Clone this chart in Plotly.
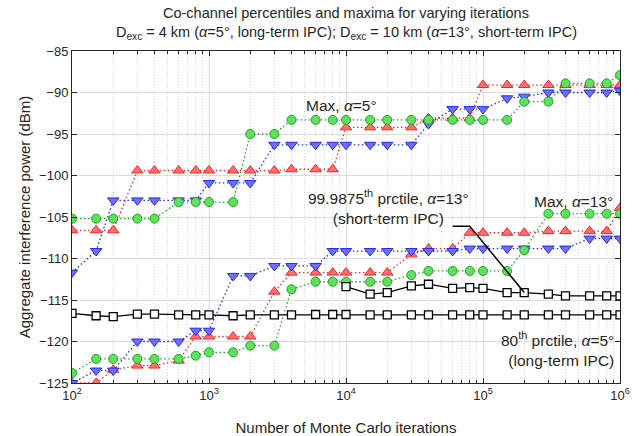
import plotly.graph_objects as go

# ---------------- data ----------------
iterations = [100, 150, 200, 300, 400, 600, 800,
              1e3, 1.5e3, 2e3, 3e3, 4e3, 6e3, 8e3,
              1e4, 1.5e4, 2e4, 3e4, 4e4, 6e4, 8e4,
              1e5, 1.5e5, 2e5, 3e5, 4e5, 6e5, 8e5, 1e6]

# Max, alpha=5 deg (three runs)
max_a5_green = [-105.2]*5 + [-103.2]*4 + [-95.0]*2 + [-93.3]*12 + [-91.1]*2 + [-88.9]*3 + [-87.9]
max_a5_red = [-106.6]*3 + [-99.4]*8 + [-99.25]*3 + [-94.2]*4 + [-93.1]*3 + [-89.1]*8
max_a5_blue = ([-111.7, -109.1] + [-103.0]*5 + [-100.9]*3 + [-96.3]*8 + [-93.8]
               + [-92.0]*3 + [-90.7, -90.5] + [-90.0]*4 + [-89.8])

# Max, alpha=13 deg (three runs)
max_a13_green = ([-123.8] + [-122.1]*5 + [-121.7] + [-121.3]*2 + [-120.5]*2 + [-113.7]
                 + [-112.8]*5 + [-112.0] + [-111.5]*5 + [-109.0] + [-104.6]*5)
max_a13_red = ([-125.0, -125.0, -123.4, -122.9, -122.9, -122.3] + [-119.4]*4 + [-114.0]
               + [-111.7]*6 + [-109.5, -108.8, -108.8] + [-106.9]*4 + [-106.7]*4 + [-103.9])
max_a13_blue = ([-125.0, -123.5, -123.5] + [-120.0]*3 + [-118.7]*2 + [-112.1]*2
                + [-110.9]*3 + [-109.1]*7 + [-108.8]*6 + [-107.6]*3)

# 80th percentile, alpha=5 deg (long-term IPC)
p80_a5 = ([-116.6, -116.9, -117.0, -116.7, -116.7, -116.8, -116.8, -116.8, -116.9,
           -116.8, -116.8, -116.8, -116.75, -116.75, -116.75] + [-116.8]*14)

# 99.9875th percentile, alpha=13 deg (short-term IPC), from 1e4 on
iterations_p999 = iterations[14:]
p999_a13 = [-113.4, -114.3, -114.1, -113.3, -113.1, -113.6, -113.5, -113.6,
            -114.1, -114.1, -114.3, -114.5, -114.5, -114.5, -114.5]

# annotation connector (label -> curve)
connector_x = [6e4, 8e4, 2e5]
connector_y = [-106.1, -106.1, -114.1]

x_tickvals = [1e2, 1e3, 1e4, 1e5, 1e6]
x_ticktext = ["10<sup>2</sup>", "10<sup>3</sup>", "10<sup>4</sup>", "10<sup>5</sup>", "10<sup>6</sup>"]
y_tickvals = [-125, -120, -115, -110, -105, -100, -95, -90, -85]

title_line1 = "Co-channel percentiles and maxima for varying iterations"
title_line2 = ("D<sub>exc</sub> = 4 km (<i>α</i>=5°, long-term IPC); "
               "D<sub>exc</sub> = 10 km (<i>α</i>=13°, short-term IPC)")

# ---------------- styles ----------------
FONT = "Liberation Sans, Arial, sans-serif"
TXT = "#262626"
RED = dict(line="#ee2a2a", fill="#ff6e6e", symbol="triangle-up")
BLUE = dict(line="#2a2aee", fill="#6e6eff", symbol="triangle-down")
GREEN = dict(line="#1fa51f", fill="#60e060", symbol="circle")
DOT = "1.5px,2.5px"

fig = go.Figure()


def add_series(y, st, size=9):
    fig.add_trace(go.Scatter(
        x=iterations, y=y, mode="lines+markers",
        line=dict(color=st["line"], width=1.3, dash=DOT),
        marker=dict(symbol=st["symbol"], size=size, color=st["fill"],
                    line=dict(color=st["line"], width=1)),
        showlegend=False, hoverinfo="x+y"))


for ys in (max_a5_red, max_a13_red):
    add_series(ys, RED, 10)
for ys in (max_a5_blue, max_a13_blue):
    add_series(ys, BLUE, 10)
for ys in (max_a5_green, max_a13_green):
    add_series(ys, GREEN, 9)

for xs, ys in ((iterations, p80_a5), (iterations_p999, p999_a13)):
    fig.add_trace(go.Scatter(
        x=xs, y=ys, mode="lines+markers",
        line=dict(color="black", width=1.3),
        marker=dict(symbol="square", size=8, color="white", line=dict(color="black", width=1.3)),
        showlegend=False))
fig.add_trace(go.Scatter(
    x=connector_x, y=connector_y, mode="lines",
    line=dict(color="black", width=1.5), showlegend=False, hoverinfo="skip"))

ann_font = dict(family=FONT, size=15.5, color=TXT)
annotations = [
    dict(text="Max, <i>α</i>=5°", x=0.491, y=0.837, xanchor="center", yanchor="middle"),
    dict(text="99.9875<sup>th</sup> prctile, <i>α</i>=13°<br>(short-term IPC)",
         x=0.578, y=0.530, xanchor="center", yanchor="middle", align="center"),
    dict(text="Max, <i>α</i>=13°", x=0.915, y=0.546, xanchor="center", yanchor="middle"),
    dict(text="80<sup>th</sup> prctile, <i>α</i>=5°<br>(long-term IPC)",
         x=0.992, y=0.102, xanchor="right", yanchor="middle", align="right"),
]
for a in annotations:
    fig.add_annotation(xref="paper", yref="paper", showarrow=False, font=ann_font, **a)

title_font = dict(family=FONT, size=14.5, color=TXT)
fig.add_annotation(xref="paper", yref="paper", x=0.5, y=1.114, text=title_line1,
                   showarrow=False, xanchor="center", yanchor="middle", font=title_font)
fig.add_annotation(xref="paper", yref="paper", x=0.5, y=1.054, text=title_line2,
                   showarrow=False, xanchor="center", yanchor="middle", font=title_font)

fig.update_layout(
    width=639, height=436,
    margin=dict(l=72, r=19, t=51, b=53),
    paper_bgcolor="white", plot_bgcolor="white",
    font=dict(family=FONT, size=13, color=TXT),
    xaxis=dict(
        type="log", range=[2, 6],
        tickvals=x_tickvals, ticktext=x_ticktext,
        showgrid=True, gridcolor="#dcdcdc", gridwidth=1,
        ticks="inside", ticklen=5, tickcolor="#262626",
        showline=True, linecolor="#262626", linewidth=1, mirror="allticks",
        minor=dict(dtick="D1", showgrid=True, gridcolor="#d4d4d4", griddash="1px,2px",
                   ticks="inside", ticklen=3, tickcolor="#262626"),
        title=dict(text="Number of Monte Carlo iterations", standoff=20,
                   font=dict(family=FONT, size=15, color=TXT)),
        tickfont=dict(family=FONT, size=13, color=TXT),
        zeroline=False, automargin=False),
    yaxis=dict(
        range=[-125, -85], tickvals=y_tickvals,
        showgrid=True, gridcolor="#dcdcdc", gridwidth=1,
        ticks="inside", ticklen=5, tickcolor="#262626",
        showline=True, linecolor="#262626", linewidth=1, mirror="allticks",
        title=dict(text="Aggregate interference power (dBm)", standoff=4,
                   font=dict(family=FONT, size=15, color=TXT)),
        tickfont=dict(family=FONT, size=13, color=TXT),
        zeroline=False),
)

fig.write_html("out.html")
